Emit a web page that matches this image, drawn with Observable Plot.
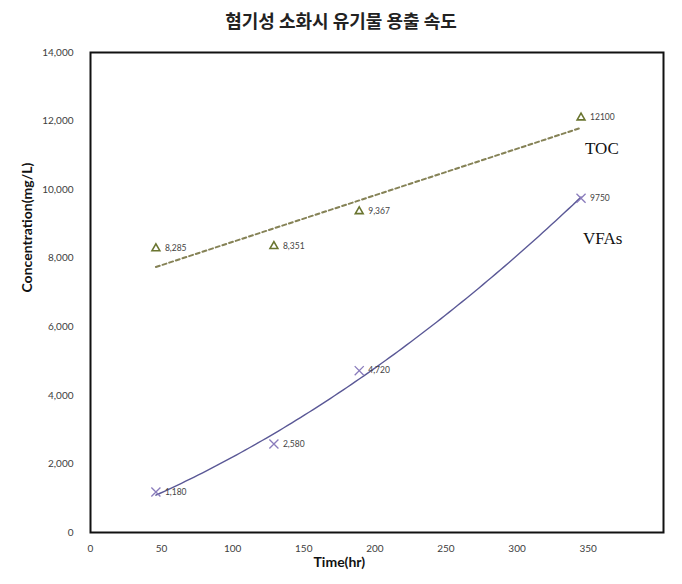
<!DOCTYPE html>
<html><head><meta charset="utf-8">
<script src="https://cdn.jsdelivr.net/npm/d3@7"></script>
<script src="https://cdn.jsdelivr.net/npm/@observablehq/plot@0.6"></script>
<style>
body{margin:0;background:#fff;}
#title{width:682px;height:40px;line-height:40px;text-align:center;font-family:"Noto Sans CJK KR";font-weight:bold;font-size:18px;color:#222;}
#chart svg{display:block;}
</style></head><body>
<div id="title">혐기성 소화시 유기물 용출 속도</div>
<div id="chart"></div>
<script>
// Data
const times = [46, 129, 189, 345];
const tocValues = [8285, 8351, 9367, 12100];
const vfaValues = [1180, 2580, 4720, 9750];
const tocLabels = ["8,285", "8,351", "9,367", "12100"];
const vfaLabels = ["1,180", "2,580", "4,720", "9750"];
const seriesNames = ["TOC", "VFAs"];
const xTicks = [0, 50, 100, 150, 200, 250, 300, 350];
const yTicks = [0, 2000, 4000, 6000, 8000, 10000, 12000, 14000];
const xTitle = "Time(hr)";
const yTitle = "Concentration(mg/L)";

const toc = times.map((t, i) => ({t, v: tocValues[i], label: tocLabels[i]}));
const vfa = times.map((t, i) => ({t, v: vfaValues[i], label: vfaLabels[i]}));

// Quadratic (order-2 polynomial) least-squares trendline for VFAs
function polyFit2(xs, ys) {
  const S = (f) => d3.sum(xs.map((x, i) => f(x, ys[i])));
  const A = [
    [xs.length, S(x => x), S(x => x * x)],
    [S(x => x), S(x => x * x), S(x => x ** 3)],
    [S(x => x * x), S(x => x ** 3), S(x => x ** 4)]
  ];
  const b = [S((x, y) => y), S((x, y) => x * y), S((x, y) => x * x * y)];
  const n = 3;
  for (let i = 0; i < n; i++) {
    let p = i;
    for (let k = i + 1; k < n; k++) if (Math.abs(A[k][i]) > Math.abs(A[p][i])) p = k;
    [A[i], A[p]] = [A[p], A[i]]; [b[i], b[p]] = [b[p], b[i]];
    for (let k = i + 1; k < n; k++) {
      const f = A[k][i] / A[i][i];
      for (let j = i; j < n; j++) A[k][j] -= f * A[i][j];
      b[k] -= f * b[i];
    }
  }
  const c = [0, 0, 0];
  for (let i = n - 1; i >= 0; i--) {
    let s = b[i];
    for (let j = i + 1; j < n; j++) s -= A[i][j] * c[j];
    c[i] = s / A[i][i];
  }
  return c;
}
const c = polyFit2(times, vfaValues);
const [tMin, tMax] = d3.extent(times);
const curve = d3.range(0, 101).map(k => {
  const t = tMin + (tMax - tMin) * k / 100;
  return {t, v: c[0] + c[1] * t + c[2] * t * t};
});

const lastToc = [toc[toc.length - 1]];
const lastVfa = [vfa[vfa.length - 1]];

const tocColor = "#6a7530";
const tocLine = "#858256";
const vfaColor = "#8a7cbc";
const vfaLine = "#5a5896";
const fmt = d3.format(",");

const chart = Plot.plot({
  width: 682,
  height: 544,
  marginTop: 12,
  marginBottom: 52,
  marginLeft: 90,
  marginRight: 19,
  style: {fontFamily: "Lato", background: "white"},
  x: {domain: [0, 403]},
  y: {domain: [0, 14000]},
  marks: [
    Plot.axisX({ticks: xTicks, tickSize: 0, tickPadding: 12, fontSize: 10, color: "#404040", label: null, tickFormat: d => String(d)}),
    Plot.axisY({ticks: yTicks, tickSize: 0, tickPadding: 17, fontSize: 10, color: "#404040", label: null, tickFormat: d => fmt(d)}),
    Plot.frame({stroke: "#111", strokeWidth: 2}),
    Plot.linearRegressionY(toc, {x: "t", y: "v", ci: 0, stroke: tocLine, strokeWidth: 2, strokeDasharray: "4,3"}),
    Plot.line(curve, {x: "t", y: "v", stroke: vfaLine, strokeWidth: 1.4}),
    Plot.dot(toc, {x: "t", y: "v", symbol: "triangle", r: 2.9, stroke: tocColor, strokeWidth: 1.6, fill: "none"}),
    Plot.dot(vfa, {x: "t", y: "v", symbol: "times", r: 4.2, stroke: vfaColor, strokeWidth: 1.3}),
    Plot.text(toc, {x: "t", y: "v", text: "label", dx: 9, textAnchor: "start", fontSize: 8.5, fill: "#444"}),
    Plot.text(vfa, {x: "t", y: "v", text: "label", dx: 9, textAnchor: "start", fontSize: 8.5, fill: "#444"}),
    Plot.text(lastToc, {x: "t", y: "v", text: () => seriesNames[0], dx: 4, dy: 31, textAnchor: "start", fontFamily: "Liberation Serif", fontSize: 17, fill: "#111"}),
    Plot.text(lastVfa, {x: "t", y: "v", text: () => seriesNames[1], dx: 2, dy: 40, textAnchor: "start", fontFamily: "Liberation Serif", fontSize: 17, fill: "#111"}),
    Plot.text([yTitle], {frameAnchor: "left", text: d => d, rotate: -90, dx: -63, fontSize: 14, fontWeight: "bold", fill: "#111"}),
    Plot.text([xTitle], {x: (xTicks[0] + xTicks[xTicks.length - 1]) / 2, frameAnchor: "bottom", text: d => d, dy: 34, fontSize: 14, fontWeight: "bold", fill: "#111"})
  ]
});
document.getElementById("chart").appendChild(chart);
</script>
</body></html>
